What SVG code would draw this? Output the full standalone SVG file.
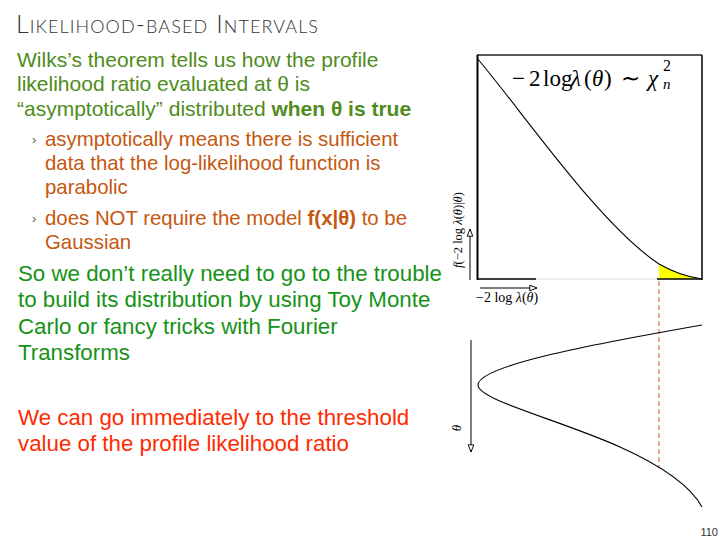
<svg xmlns="http://www.w3.org/2000/svg" width="720" height="540" viewBox="0 0 720 540">
<style>
.sans{font-family:"Liberation Sans",Arial,sans-serif}
.p1{fill:#4e8c1c;font-size:21px}
.bl{fill:#c4580f;font-size:20.4px}
.bm{fill:#555;font-size:13px}
.p3{fill:#169216;font-size:22.3px}
.rd{fill:#ff2a00;font-size:22.3px}
.math{font-family:"Liberation Serif","Times New Roman",serif;fill:#000}
.it{font-style:italic}
.ax{stroke:#000;stroke-width:1;fill:none}
.crv{stroke:#000;stroke-width:1.1;fill:none}
</style>
<defs>
<marker id="oa" viewBox="0 0 10 10" refX="10" refY="5" markerWidth="8" markerHeight="8" markerUnits="userSpaceOnUse" orient="auto">
<path d="M1,1.5 L10,5 L1,8.5 Z" fill="#fff" stroke="#000" stroke-width="1.2"/>
</marker>
</defs>
<rect width="720" height="540" fill="#fff"/>

<g id="title">
<text x="16" y="33" font-family="Lato,'Open Sans',sans-serif" font-weight="300" font-size="25" font-variant="small-caps" fill="#333" textLength="302" lengthAdjust="spacing">Likelihood-based Intervals</text>
</g>

<g id="wilks" class="sans p1">
<text x="17" y="67">Wilks’s theorem tells us how the profile</text>
<text x="17" y="91">likelihood ratio evaluated at θ is</text>
<text x="17" y="116">“asymptotically” distributed <tspan font-weight="bold">when θ is true</tspan></text>
</g>

<g id="bullets" class="sans">
<text x="32" y="144" class="bm">›</text>
<text x="45" y="146" class="bl">asymptotically means there is sufficient</text>
<text x="45" y="170" class="bl">data that the log-likelihood function is</text>
<text x="45" y="194" class="bl">parabolic</text>
<text x="32" y="223" class="bm">›</text>
<text x="45" y="225" class="bl">does NOT require the model <tspan font-weight="bold">f(x|θ)</tspan> to be</text>
<text x="45" y="249" class="bl">Gaussian</text>
</g>

<g id="toy" class="sans p3">
<text x="18" y="281">So we don’t really need to go to the trouble</text>
<text x="18" y="307">to build its distribution by using Toy Monte</text>
<text x="18" y="334">Carlo or fancy tricks with Fourier</text>
<text x="18" y="360">Transforms</text>
</g>

<g id="threshold" class="sans rd">
<text x="18" y="425">We can go immediately to the threshold</text>
<text x="18" y="451">value of the profile likelihood ratio</text>
</g>

<g id="upper-plot">
<path d="M659,279 L659,264 Q680,276 702,279 Z" fill="#ffff00"/>
<line x1="477" y1="55" x2="702" y2="55" stroke="#222" stroke-width="1.3"/>
<line x1="477.5" y1="55" x2="477.5" y2="280" stroke="#000" stroke-width="2"/>
<line x1="702" y1="55" x2="702" y2="280" stroke="#000" stroke-width="1.5"/>
<line x1="477" y1="279" x2="536" y2="279" stroke="#000" stroke-width="1.6"/>
<line x1="536" y1="279" x2="657" y2="279" stroke="#dcdcdc" stroke-width="1.2"/>
<line x1="657" y1="279" x2="702" y2="279" stroke="#000" stroke-width="1.6"/>
<path class="crv" d="M477,58 C525,115 600,225 659,264 Q680,276 702,279"/>
<text class="math" y="86" font-size="23"><tspan x="512">−</tspan><tspan x="529">2</tspan><tspan x="543">log</tspan><tspan x="571" class="it">λ</tspan><tspan x="584">(</tspan><tspan x="592" class="it">θ</tspan><tspan x="604">)</tspan><tspan x="621">∼</tspan><tspan x="648" class="it">χ</tspan><tspan x="663" y="71" font-size="16">2</tspan><tspan x="663" y="89" font-size="15" class="it">n</tspan></text>
<line class="ax" x1="470" y1="280" x2="470" y2="229" marker-end="url(#oa)"/>
<line class="ax" x1="480" y1="288" x2="537" y2="288" marker-end="url(#oa)"/>
<text class="math" transform="translate(462,230) rotate(-90)" text-anchor="middle" font-size="12.5"><tspan class="it">f</tspan>(−2 log <tspan class="it">λ</tspan>(<tspan class="it">θ</tspan>)|<tspan class="it">θ</tspan>)</text>
<text class="math" x="476" y="302" font-size="14">−2 log <tspan class="it">λ</tspan>(<tspan class="it">θ</tspan>)</text>
</g>

<g id="threshold-line">
<line x1="659" y1="281" x2="659" y2="468" stroke="#f07a66" stroke-width="1.3" stroke-dasharray="5,3"/>
</g>

<g id="lower-plot">
<path class="crv" d="M702,325 C600,343 478,365 478,385 C478,400 560,420 620,447 C660,465 690,485 702,507"/>
<line class="ax" x1="471" y1="340" x2="471" y2="452" marker-end="url(#oa)"/>
<text class="math it" transform="translate(461,428) rotate(-90)" text-anchor="middle" font-size="13">θ</text>
</g>

<g id="page">
<text x="718" y="536" class="sans" font-size="11" fill="#333" text-anchor="end">110</text>
</g>
</svg>
